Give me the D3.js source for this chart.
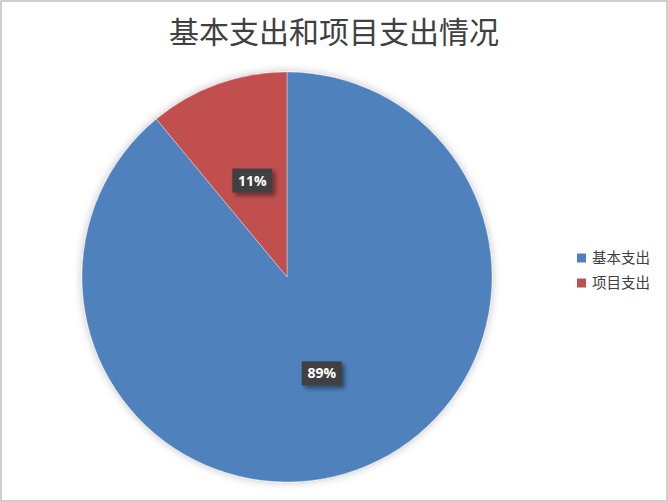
<!DOCTYPE html>
<html>
<head>
<meta charset="utf-8">
<script src="https://cdn.jsdelivr.net/npm/d3@7"></script>
<style>
  body { margin: 0; background: #fff; }
  svg { display: block; }
</style>
</head>
<body>
<svg id="chart"></svg>
<script>
// 基本支出和项目支出情况
const categories = ["基本支出", "项目支出"]
const values = [89, 11]
const colors = ["#4F81BD", "#C0504D"]
const labels = ["89%", "11%"]

const width = 668
const height = 502
const cx = 287, cy = 277, radius = 205

const svg = d3.select("#chart")
    .attr("width", width)
    .attr("height", height)

// marco del grafico
svg.append("rect")
    .attr("x", 1).attr("y", 1)
    .attr("width", width - 2).attr("height", height - 2)
    .attr("fill", "#fff")
    .attr("stroke", "#bfbfbf")
    .attr("stroke-width", 1.5)

const defs = svg.append("defs")
const pieShadow = defs.append("filter").attr("id", "pieShadow")
    .attr("x", "-10%").attr("y", "-10%").attr("width", "120%").attr("height", "120%")
pieShadow.append("feDropShadow")
    .attr("dx", 0).attr("dy", 0).attr("stdDeviation", 4)
    .attr("flood-color", "#000").attr("flood-opacity", 0.25)

const boxShadow = defs.append("filter").attr("id", "boxShadow")
    .attr("x", "-30%").attr("y", "-30%").attr("width", "170%").attr("height", "170%")
boxShadow.append("feDropShadow")
    .attr("dx", 3).attr("dy", 3).attr("stdDeviation", 2)
    .attr("flood-color", "#000").attr("flood-opacity", 0.45)

// titulo
svg.append("text")
    .attr("x", 334)
    .attr("y", 43)
    .attr("text-anchor", "middle")
    .attr("font-family", "'Noto Sans CJK SC', sans-serif")
    .attr("font-size", 30)
    .attr("fill", "#404040")
    .text("基本支出和项目支出情况")

const data = categories.map((c, i) => ({ name: c, value: values[i], color: colors[i], label: labels[i] }))

const pie = d3.pie()
    .value(d => d.value)
    .sort(null)

const arc = d3.arc().innerRadius(0).outerRadius(radius)

const g = svg.append("g").attr("transform", `translate(${cx},${cy})`)

g.append("g").attr("filter", "url(#pieShadow)")
    .selectAll("path")
    .data(pie(data))
    .enter()
    .append("path")
    .attr("d", arc)
    .attr("fill", d => d.data.color)
    .attr("stroke", "#fff")
    .attr("stroke-opacity", 0.35)
    .attr("stroke-width", 1)

// etiquetas de datos
const labelArc = d3.arc().innerRadius(radius * 0.5).outerRadius(radius * 0.5)

const lab = g.selectAll("g.lab")
    .data(pie(data))
    .enter()
    .append("g")
    .attr("class", "lab")
    .attr("transform", d => {
        const [x, y] = labelArc.centroid(d)
        return `translate(${x},${y})`
    })

lab.append("rect")
    .attr("x", -20).attr("y", -12)
    .attr("width", 40).attr("height", 24)
    .attr("fill", "#404040")
    .attr("filter", "url(#boxShadow)")

lab.append("text")
    .attr("text-anchor", "middle")
    .attr("dy", "0.36em")
    .attr("font-family", "'Open Sans', 'DejaVu Sans', sans-serif")
    .attr("font-weight", "bold")
    .attr("font-size", 14)
    .attr("fill", "#fff")
    .text(d => d.data.label)

// leyenda
const legend = svg.append("g").attr("transform", "translate(577,258)")

const item = legend.selectAll("g")
    .data(data)
    .enter()
    .append("g")
    .attr("transform", (d, i) => `translate(0,${i * 25})`)

item.append("rect")
    .attr("x", 0).attr("y", -4.5)
    .attr("width", 9).attr("height", 9)
    .attr("fill", d => d.color)

item.append("text")
    .attr("x", 15)
    .attr("dy", "0.35em")
    .attr("font-family", "'Noto Sans CJK SC', sans-serif")
    .attr("font-size", 14.5)
    .attr("fill", "#404040")
    .text(d => d.name)
</script>
</body>
</html>
